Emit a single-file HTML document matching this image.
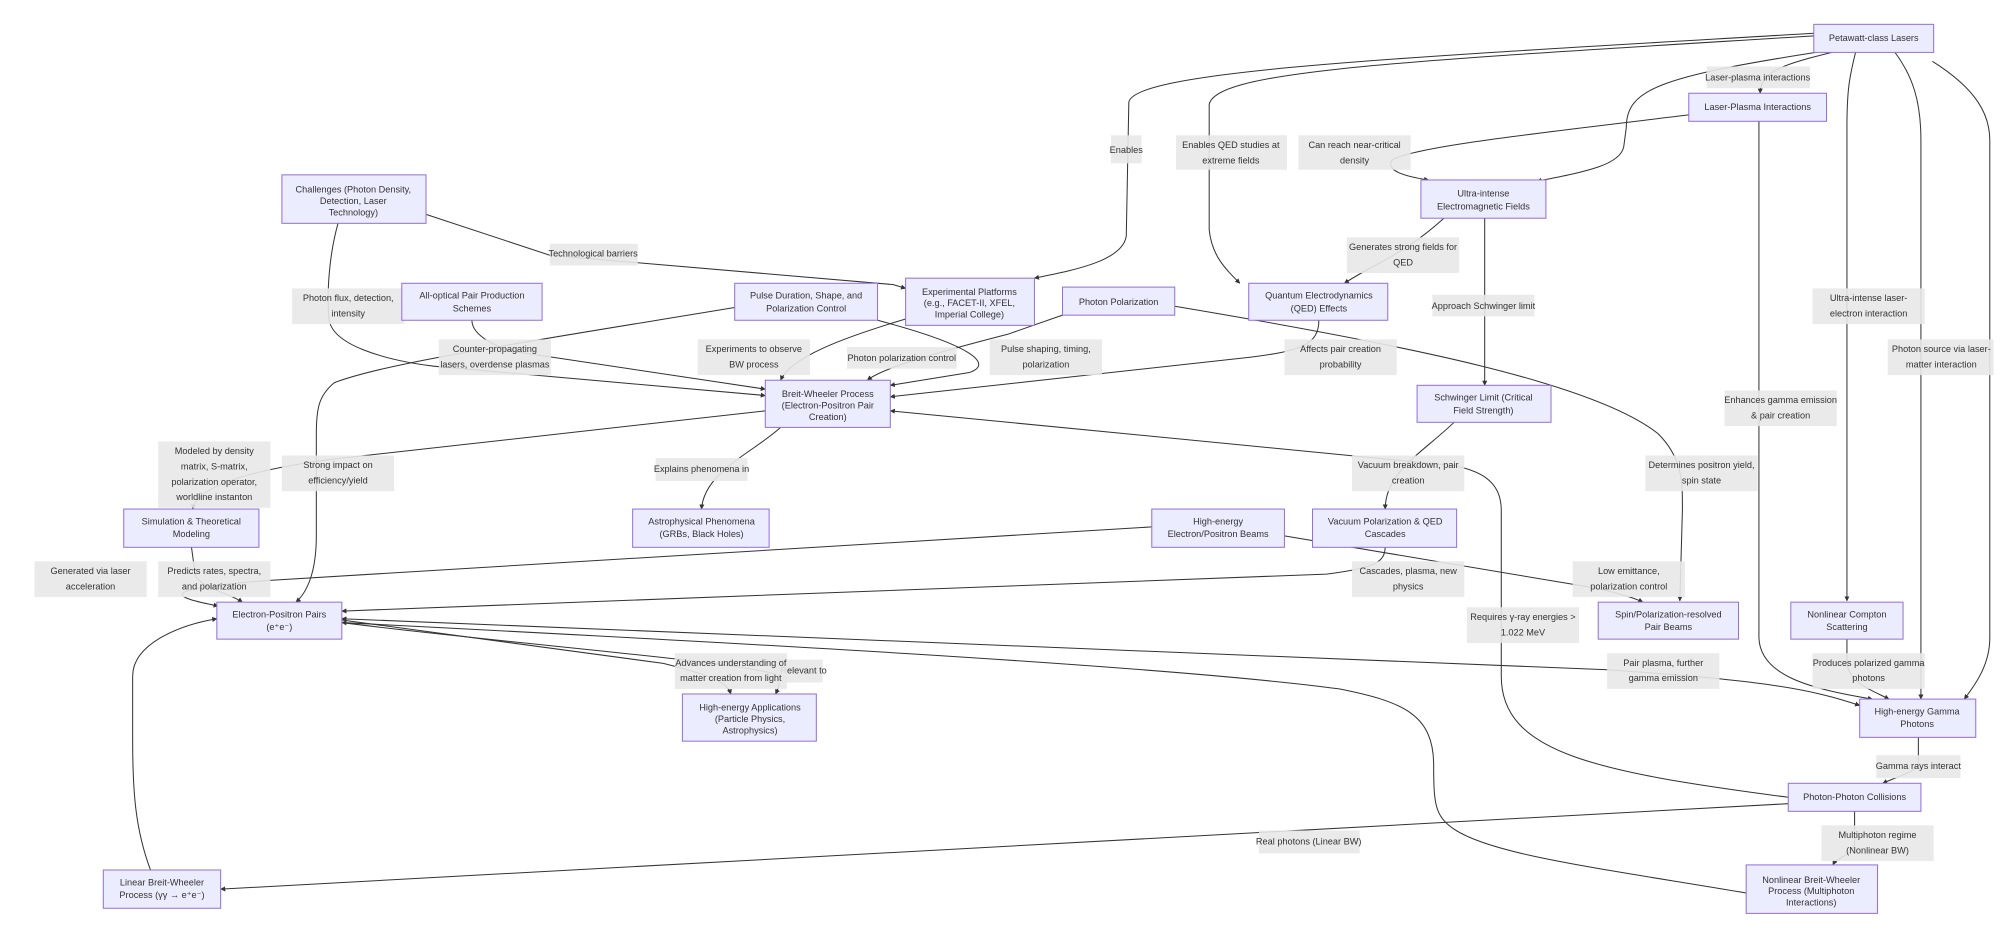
<!DOCTYPE html>
<html><head><meta charset="utf-8"><style>
html,body{margin:0;padding:0;background:#fff;}
svg{display:block;}
.n{fill:#ECECFF;stroke:#9370DB;stroke-width:0.8;}
.l{fill:#e8e8e8;opacity:0.9;}
.e{fill:none;stroke:#333;stroke-width:0.8;}
text{font-family:"Liberation Sans",sans-serif;font-size:7.2px;fill:#333;text-anchor:middle;}
</style></head><body>
<svg width="2000" height="939" viewBox="0 0 1568 736" xmlns="http://www.w3.org/2000/svg">
<defs><marker id="a" viewBox="0 0 10 10" refX="9" refY="5" markerWidth="5" markerHeight="5" orient="auto"><path d="M0,0L10,5L0,10z" fill="#333"/></marker></defs>
<g class="e" marker-end="url(#a)">
<path d="M1440,40 C1400,50 1380,55 1380,73"/>
<path d="M1422,26 C1100,45 890,55 885,80 L883,185 C880,205 840,212 811,218"/>
<path d="M1422,28 C1100,48 952,55 948,82 L948,180 C950,200 960,210 972,222"/>
<path d="M1430,40 C1300,60 1275,70 1275,100 L1273,115 C1270,130 1240,135 1205,142"/>
<path d="M1455,40 C1450,60 1448,70 1448,100 L1448,471"/>
<path d="M1485,40 C1500,60 1506,80 1506,110 L1506,548"/>
<path d="M1515,48 C1550,70 1560,90 1560,110 L1560,500 C1560,520 1550,535 1540,548"/>
<path d="M1324,90 C1200,105 1110,115 1092,125 C1085,133 1100,138 1120,141"/>
<path d="M1379,95 L1379,500 C1380,530 1420,540 1468,548"/>
<path d="M1132,171 C1100,200 1080,205 1054,222"/>
<path d="M1164,171 L1164,302"/>
<path d="M1140,331 C1115,355 1086,370 1086,399"/>
<path d="M1402,625 C1250,605 1177,590 1177,530 L1177,400 C1177,380 1165,370 1140,365 L698,322"/>
<path d="M1034,251 C1034,270 1020,275 980,280 L698,311"/>
<path d="M921,240 C1100,270 1250,300 1300,340 C1320,360 1319,380 1319,400 L1317,471"/>
<path d="M833,247 L790,262 C720,280 690,290 680,298"/>
<path d="M688,251 C760,270 780,285 760,292 L698,302"/>
<path d="M710,250 C660,265 620,280 612,298"/>
<path d="M576,241 C400,270 300,285 262,300 C250,310 248,320 248,340 L248,420 C248,450 240,465 232,472"/>
<path d="M600,322 L260,360 C200,368 155,380 151,399"/>
<path d="M265,175 C258,200 256,230 258,250 C260,270 300,282 340,287 L600,310"/>
<path d="M334,168 L431,200 L700,223 L710,226"/>
<path d="M370,251 C370,260 380,268 400,275 L600,305"/>
<path d="M612,335 C590,355 552,370 550,399"/>
<path d="M150,428 L153,450 C155,460 180,465 190,472"/>
<path d="M903,413 L210,455 C120,462 135,468 171,475"/>
<path d="M1007,420 L1233,458 C1260,462 1280,468 1288,472"/>
<path d="M1086,428 C1086,440 1080,445 1040,450 L268,479"/>
<path d="M268,486 L520,520 C560,530 570,535 573,544"/>
<path d="M268,488 C400,505 600,520 610,530 C612,537 610,540 608,544"/>
<path d="M1260,525 C1380,533 1420,540 1458,553"/>
<path d="M1260,525 L268,485"/>
<path d="M1369,700 C1250,680 1170,670 1140,650 C1125,640 1124,630 1124,600 C1124,560 1100,550 1050,540 C900,520 500,500 268,488"/>
<path d="M118,682 C106,650 104,620 104,580 L104,530 C104,505 140,490 170,485"/>
<path d="M1402,630 L173,697"/>
<path d="M1454,636 L1454,660 C1454,670 1440,672 1437,678"/>
<path d="M1504,578 L1504,600 C1500,605 1490,608 1476,614"/>
<path d="M1448,501 L1448,520 C1450,535 1465,540 1481,548"/>
</g>
<g>
<rect class="l" x="1338" y="52" width="81" height="17"/><text x="1378" y="63">Laser-plasma interactions</text>
<rect class="l" x="871" y="106" width="24" height="22"/><text x="883" y="120">Enables</text>
<rect class="l" x="922" y="106" width="87" height="27"/><text x="965" y="116">Enables QED studies at</text><text x="965" y="128">extreme fields</text>
<rect class="l" x="1018" y="106" width="88" height="27"/><text x="1062" y="116">Can reach near-critical</text><text x="1062" y="128">density</text>
<rect class="l" x="1056" y="186" width="88" height="28"/><text x="1100" y="196">Generates strong fields for</text><text x="1100" y="208">QED</text>
<rect class="l" x="431" y="191" width="69" height="17"/><text x="465" y="201">Technological barriers</text>
<rect class="l" x="229" y="226" width="88" height="28"/><text x="273" y="236">Photon flux, detection,</text><text x="273" y="248">intensity</text>
<rect class="l" x="1123" y="231" width="80" height="17"/><text x="1163" y="242">Approach Schwinger limit</text>
<rect class="l" x="1421" y="226" width="88" height="28"/><text x="1465" y="236">Ultra-intense laser-</text><text x="1465" y="248">electron interaction</text>
<rect class="l" x="344" y="266" width="88" height="28"/><text x="388" y="276">Counter-propagating</text><text x="388" y="288">lasers, overdense plasmas</text>
<rect class="l" x="547" y="266" width="88" height="28"/><text x="591" y="276">Experiments to observe</text><text x="591" y="288">BW process</text>
<rect class="l" x="664" y="272" width="86" height="17"/><text x="707" y="283">Photon polarization control</text>
<rect class="l" x="776" y="266" width="88" height="28"/><text x="820" y="276">Pulse shaping, timing,</text><text x="820" y="288">polarization</text>
<rect class="l" x="1007" y="266" width="88" height="28"/><text x="1051" y="276">Affects pair creation</text><text x="1051" y="288">probability</text>
<rect class="l" x="1480" y="266" width="83" height="28"/><text x="1522" y="276">Photon source via laser-</text><text x="1522" y="288">matter interaction</text>
<rect class="l" x="1352" y="306" width="88" height="28"/><text x="1396" y="316">Enhances gamma emission</text><text x="1396" y="328">&amp; pair creation</text>
<rect class="l" x="124" y="346" width="88" height="52"/><text x="168" y="356">Modeled by density</text><text x="168" y="368">matrix, S-matrix,</text><text x="168" y="380">polarization operator,</text><text x="168" y="392">worldline instanton</text>
<rect class="l" x="221" y="357" width="88" height="28"/><text x="265" y="367">Strong impact on</text><text x="265" y="379">efficiency/yield</text>
<rect class="l" x="514" y="359" width="72" height="18"/><text x="550" y="370">Explains phenomena in</text>
<rect class="l" x="1060" y="357" width="88" height="28"/><text x="1104" y="367">Vacuum breakdown, pair</text><text x="1104" y="379">creation</text>
<rect class="l" x="1290" y="357" width="88" height="28"/><text x="1334" y="367">Determines positron yield,</text><text x="1334" y="379">spin state</text>
<rect class="l" x="27" y="440" width="88" height="28"/><text x="71" y="450">Generated via laser</text><text x="71" y="462">acceleration</text>
<rect class="l" x="124" y="440" width="88" height="28"/><text x="168" y="450">Predicts rates, spectra,</text><text x="168" y="462">and polarization</text>
<rect class="l" x="1060" y="440" width="88" height="28"/><text x="1104" y="450">Cascades, plasma, new</text><text x="1104" y="462">physics</text>
<rect class="l" x="1233" y="440" width="88" height="28"/><text x="1277" y="450">Low emittance,</text><text x="1277" y="462">polarization control</text>
<rect class="l" x="1150" y="476" width="88" height="28"/><text x="1194" y="486">Requires γ-ray energies &gt;</text><text x="1194" y="498">1.022 MeV</text>
<rect class="l" x="607" y="517" width="38" height="18"/><text x="630" y="528">Relevant to</text>
<rect class="l" x="529" y="512" width="88" height="28"/><text x="573" y="522">Advances understanding of</text><text x="573" y="534">matter creation from light</text>
<rect class="l" x="1260" y="512" width="88" height="28"/><text x="1304" y="522">Pair plasma, further</text><text x="1304" y="534">gamma emission</text>
<rect class="l" x="1421" y="512" width="88" height="28"/><text x="1465" y="522">Produces polarized gamma</text><text x="1465" y="534">photons</text>
<rect class="l" x="1471" y="592" width="66" height="18"/><text x="1504" y="603">Gamma rays interact</text>
<rect class="l" x="987" y="651" width="79" height="18"/><text x="1026" y="662">Real photons (Linear BW)</text>
<rect class="l" x="1428" y="647" width="88" height="28"/><text x="1472" y="657">Multiphoton regime</text><text x="1472" y="669">(Nonlinear BW)</text>
</g>
<g>
<rect class="n" x="1422" y="19" width="94" height="22"/><text x="1469" y="32">Petawatt-class Lasers</text>
<rect class="n" x="1324" y="73" width="108" height="22"/><text x="1378" y="86">Laser-Plasma Interactions</text>
<rect class="n" x="1114" y="141" width="98" height="30"/><text x="1163" y="154">Ultra-intense</text><text x="1163" y="164">Electromagnetic Fields</text>
<rect class="n" x="221" y="137" width="113" height="38"/><text x="277" y="151">Challenges (Photon Density,</text><text x="277" y="160">Detection, Laser</text><text x="277" y="169">Technology)</text>
<rect class="n" x="315" y="222" width="110" height="29"/><text x="370" y="234">All-optical Pair Production</text><text x="370" y="244">Schemes</text>
<rect class="n" x="576" y="222" width="112" height="29"/><text x="632" y="234">Pulse Duration, Shape, and</text><text x="632" y="244">Polarization Control</text>
<rect class="n" x="710" y="218" width="101" height="37"/><text x="760" y="231">Experimental Platforms</text><text x="760" y="240">(e.g., FACET-II, XFEL,</text><text x="760" y="249">Imperial College)</text>
<rect class="n" x="833" y="225" width="88" height="22"/><text x="877" y="239">Photon Polarization</text>
<rect class="n" x="979" y="222" width="109" height="29"/><text x="1034" y="234">Quantum Electrodynamics</text><text x="1034" y="244">(QED) Effects</text>
<rect class="n" x="600" y="298" width="98" height="37"/><text x="649" y="311">Breit-Wheeler Process</text><text x="649" y="320">(Electron-Positron Pair</text><text x="649" y="329">Creation)</text>
<rect class="n" x="1111" y="302" width="105" height="29"/><text x="1163" y="314">Schwinger Limit (Critical</text><text x="1163" y="324">Field Strength)</text>
<rect class="n" x="97" y="399" width="106" height="30"/><text x="150" y="411">Simulation &amp; Theoretical</text><text x="150" y="421">Modeling</text>
<rect class="n" x="496" y="399" width="107" height="30"/><text x="550" y="411">Astrophysical Phenomena</text><text x="550" y="421">(GRBs, Black Holes)</text>
<rect class="n" x="903" y="399" width="104" height="30"/><text x="955" y="411">High-energy</text><text x="955" y="421">Electron/Positron Beams</text>
<rect class="n" x="1029" y="399" width="113" height="30"/><text x="1086" y="411">Vacuum Polarization &amp; QED</text><text x="1086" y="421">Cascades</text>
<rect class="n" x="170" y="472" width="98" height="29"/><text x="219" y="484">Electron-Positron Pairs</text><text x="219" y="494">(e⁺e⁻)</text>
<rect class="n" x="1253" y="472" width="110" height="29"/><text x="1308" y="484">Spin/Polarization-resolved</text><text x="1308" y="494">Pair Beams</text>
<rect class="n" x="1404" y="472" width="88" height="29"/><text x="1448" y="484">Nonlinear Compton</text><text x="1448" y="494">Scattering</text>
<rect class="n" x="535" y="544" width="105" height="37"/><text x="588" y="557">High-energy Applications</text><text x="588" y="566">(Particle Physics,</text><text x="588" y="575">Astrophysics)</text>
<rect class="n" x="1458" y="548" width="91" height="30"/><text x="1503" y="560">High-energy Gamma</text><text x="1503" y="570">Photons</text>
<rect class="n" x="1402" y="614" width="104" height="22"/><text x="1454" y="627">Photon-Photon Collisions</text>
<rect class="n" x="81" y="682" width="92" height="30"/><text x="127" y="694">Linear Breit-Wheeler</text><text x="127" y="704">Process (γγ → e⁺e⁻)</text>
<rect class="n" x="1369" y="678" width="103" height="38"/><text x="1420" y="692">Nonlinear Breit-Wheeler</text><text x="1420" y="701">Process (Multiphoton</text><text x="1420" y="710">Interactions)</text>
</g>
</svg>
</body></html>
